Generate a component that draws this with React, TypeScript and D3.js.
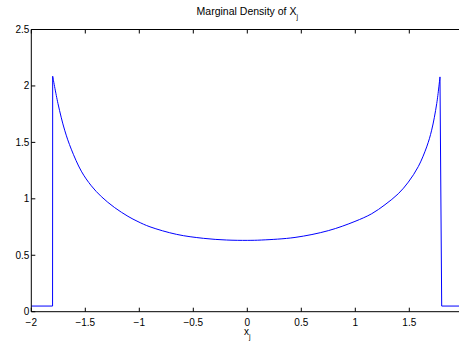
import React from "react";
import * as d3 from "d3";

const xValues = [-2, -1.803, -1.802, -1.753, -1.691, -1.63, -1.537, -1.444, -1.352, -1.228, -1.105, -1.012, -0.901, -0.654, -0.407, -0.191, 0, 0.133, 0.442, 0.75, 0.997, 1.152, 1.275, 1.398, 1.491, 1.583, 1.661, 1.707, 1.754, 1.784, 1.8, 2];
const densityValues = [0.05, 0.05, 2.086, 1.844, 1.608, 1.44, 1.245, 1.115, 1.02, 0.922, 0.845, 0.798, 0.752, 0.685, 0.65, 0.635, 0.632, 0.635, 0.658, 0.718, 0.8, 0.868, 0.948, 1.045, 1.148, 1.285, 1.46, 1.608, 1.844, 2.08, 0.05, 0.05];
const xTicks = [-2, -1.5, -1, -0.5, 0, 0.5, 1, 1.5, 2];
const xTickLabels = ["\u22122", "\u22121.5", "\u22121", "\u22120.5", "0", "0.5", "1", "1.5", ""];
const yTicks = [0, 0.5, 1, 1.5, 2, 2.5];
const yTickLabels = ["0", "0.5", "1", "1.5", "2", "2.5"];
const titleText = "Marginal Density of X";
const titleSub = "j";
const xLabel = "x";
const xLabelSub = "j";

const W = 459;
const H = 346;
const FONT = "'Liberation Sans', Arial, Helvetica, sans-serif";

export default function App() {
  const x = d3.scaleLinear().domain([-2, 2]).range([31.3, 463.3]);
  const y = d3.scaleLinear().domain([0, 2.5]).range([311.7, 29.5]);
  const pts: [number, number][] = xValues.map((v, i) => [v, densityValues[i]]);
  const leftFlat = pts.slice(0, 3);
  const curve = pts.slice(2, 30);
  const rightFlat = pts.slice(29);
  const lin = d3.line<[number, number]>().x((d) => x(d[0])).y((d) => y(d[1]));
  const smooth = d3
    .line<[number, number]>()
    .x((d) => x(d[0]))
    .y((d) => y(d[1]))
    .curve(d3.curveCatmullRom.alpha(0.5));
  const x0 = x(-2);
  const x1 = x(2);
  const yb = y(0);
  const yt = y(2.5);
  return (
    <svg width={W} height={H} style={{ position: "absolute", left: 0, top: 0, background: "#fff" }} fontFamily={FONT}>
      <rect width={W} height={H} fill="#fff" />
      <path d={lin(leftFlat) || ""} fill="none" stroke="#0000ff" strokeWidth={1} />
      <path d={smooth(curve) || ""} fill="none" stroke="#0000ff" strokeWidth={1} />
      <path d={lin(rightFlat) || ""} fill="none" stroke="#0000ff" strokeWidth={1} />
      <g stroke="#000" strokeWidth={1} fill="none">
        <line x1={x0} x2={x1} y1={yb} y2={yb} />
        <line x1={x0} x2={x1} y1={yt} y2={yt} />
        <line x1={x0} x2={x0} y1={yt} y2={yb} />
        <line x1={x1} x2={x1} y1={yt} y2={yb} />
        {xTicks.map((t) => (
          <g key={"xt" + t}>
            <line x1={x(t)} x2={x(t)} y1={yb} y2={yb - 4} />
            <line x1={x(t)} x2={x(t)} y1={yt} y2={yt + 4} />
          </g>
        ))}
        {yTicks.map((t) => (
          <g key={"yt" + t}>
            <line x1={x0} x2={x0 + 4} y1={y(t)} y2={y(t)} />
            <line x1={x1} x2={x1 - 4} y1={y(t)} y2={y(t)} />
          </g>
        ))}
      </g>
      <g fontSize={10} fill="#000">
        {xTicks.map((t, i) => (
          <text key={"xl" + t} x={x(t)} y={yb + 14} textAnchor="middle">
            {xTickLabels[i]}
          </text>
        ))}
        {yTicks.map((t, i) => (
          <text key={"yl" + t} x={x0 - 2} y={y(t) + 3.5} textAnchor="end">
            {yTickLabels[i]}
          </text>
        ))}
        <text x={x(0)} y={yb + 23} textAnchor="middle">
          {xLabel}
          <tspan fontSize={7} dy={4}>{xLabelSub}</tspan>
        </text>
        <text x={x(0)} y={15} textAnchor="middle" fontSize={10.5}>
          {titleText}
          <tspan fontSize={7} dy={4}>{titleSub}</tspan>
        </text>
      </g>
    </svg>
  );
}
